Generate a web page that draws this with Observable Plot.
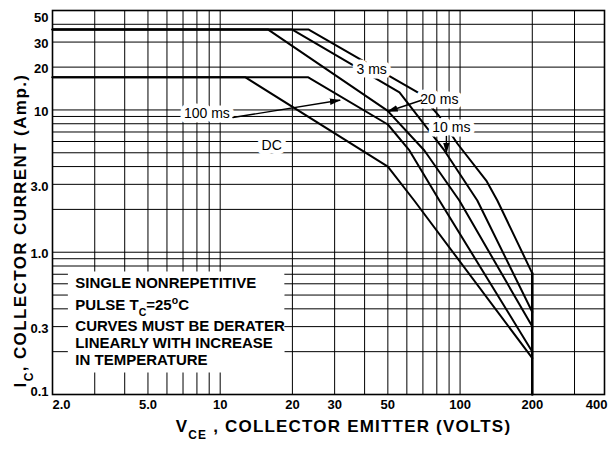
<!DOCTYPE html>
<html><head><meta charset="utf-8">
<script src="https://cdn.jsdelivr.net/npm/d3@7"></script>
<script src="https://cdn.jsdelivr.net/npm/@observablehq/plot@0.6"></script>
<style>html,body{margin:0;padding:0;background:#fff}</style>
</head><body><div id="chart"></div>
<script>
// ---- tick values / labels ----
const xTicks = [2, 5, 10, 20, 30, 50, 100, 200, 400];
const xTickLabels = ["2.0", "5.0", "10", "20", "30", "50", "100", "200", "400"];
const yTicks = [0.1, 0.3, 1, 3, 10, 20, 30, 50];
const yTickLabels = ["0.1", "0.3", "1.0", "3.0", "10", "20", "30", "50"];
const xGrid = [3, 4, 5, 6, 7, 8, 9, 10, 20, 30, 40, 50, 60, 70, 80, 90, 100, 200, 300];
const yGrid = [0.2, 0.3, 0.4, 0.5, 0.6, 0.7, 0.8, 0.9, 1, 2, 3, 4, 5, 6, 7, 8, 9, 10, 20, 30, 40];

// ---- series (VCE volts, IC amps) ----
const seriesNames = ["3 ms", "10 ms", "20 ms", "100 ms", "DC"];
const vce3ms = [2, 23.3, 67.7, 82, 97.4, 128.6, 143, 200];
const ic3ms = [36.8, 36.8, 13.1, 9.0, 5.81, 3.19, 2.31, 0.71];
const vce10ms = [2, 19.9, 55.9, 86, 118, 200];
const ic10ms = [36.8, 36.8, 13.3, 5.19, 2.31, 0.38];
const vce20ms = [2, 15.8, 49.8, 71, 99.3, 200];
const ic20ms = [36.8, 36.8, 9.9, 5.19, 2.31, 0.3];
const vce100ms = [2, 23.2, 50, 61.5, 82, 200];
const ic100ms = [17, 17, 7.9, 5.19, 2.31, 0.2];
const vceDC = [2, 12.7, 50, 64.5, 200];
const icDC = [17, 17, 4.0, 2.3, 0.18];
const vceLimit = [200, 200];
const icLimit = [0.71, 0.1];

// ---- annotations ----
const curveLabels = ["100 ms", "DC", "3 ms", "20 ms", "10 ms"];
const curveLabelV = [8.8, 16.4, 42.8, 82, 92];
const curveLabelI = [9.4, 5.6, 19.2, 11.8, 7.5];
const arrowNames = ["100 ms", "20 ms", "10 ms"];
const arrowV1 = [11.3, 69, 87.7];
const arrowI1 = [8.85, 11.7, 6.52];
const arrowV2 = [31.5, 50, 87.7];
const arrowI2 = [11.7, 9.75, 5.02];
const noteLines = ["SINGLE NONREPETITIVE", "PULSE TC=25°C", "CURVES MUST BE DERATER", "LINEARLY WITH INCREASE", "IN TEMPERATURE"];
const noteV = 2.49;
const noteI = [0.603, 0.4225, 0.3008, 0.2285, 0.1735];
const noteBoxV = [2.33, 18.6];
const xTitle = "VCE , COLLECTOR EMITTER (VOLTS)";
const yTitle = "Ic, COLLECTOR CURRENT (Amp.)";
const yTitleAt = {vce: 1.47, ic: 1.42};

// ---- build tables ----
const curveRows = [];
[[vce3ms, ic3ms], [vce10ms, ic10ms], [vce20ms, ic20ms], [vce100ms, ic100ms], [vceDC, icDC]].forEach(([vs, is], s) =>
  vs.forEach((v, k) => curveRows.push({series: seriesNames[s], vce: v, ic: is[k]})));
const limitRows = vceLimit.map((v, k) => ({vce: v, ic: icLimit[k]}));
const arrowRows = [];
arrowNames.forEach((n, k) => {
  arrowRows.push({a: n, vce: arrowV1[k], ic: arrowI1[k]});
  arrowRows.push({a: n, vce: arrowV2[k], ic: arrowI2[k]});
});
const labelRows = curveLabels.map((t, k) => ({t, vce: curveLabelV[k], ic: curveLabelI[k]}));
const noteRows = noteLines.map((t, k) => ({t, vce: noteV, ic: noteI[k]}));
const xTickRows = xTicks.map((v, k) => ({v, t: xTickLabels[k]}));
const yTickRows = yTicks.map((v, k) => ({v, t: yTickLabels[k]}));

function filledArrow(color) {
  const m = d3.create("svg:marker")
    .attr("viewBox", "-5 -5 10 10")
    .attr("markerUnits", "userSpaceOnUse")
    .attr("markerWidth", 11).attr("markerHeight", 11)
    .attr("refX", 4).attr("refY", 0)
    .attr("orient", "auto")
    .attr("fill", color).attr("stroke", "none");
  m.append("path").attr("d", "M-5,-3L5,0L-5,3Z");
  return m.node();
}

const sans = "Liberation Sans, Arial, sans-serif";
const tickFont = {fontFamily: sans, fontWeight: "bold", fontSize: 13, fill: "black"};

const svg = Plot.plot({
  width: 610,
  height: 449,
  marginTop: 10,
  marginBottom: 55,
  marginLeft: 52,
  marginRight: 6,
  style: {background: "white", fontFamily: sans, color: "black"},
  x: {type: "log", domain: [2, 400], axis: null},
  y: {type: "log", domain: [0.1, 50], axis: null},
  marks: [
    Plot.ruleX(xGrid, {stroke: "black", strokeWidth: 1}),
    Plot.ruleY(yGrid, {stroke: "black", strokeWidth: 1}),
    Plot.frame({stroke: "black", strokeWidth: 1.6}),
    Plot.line(curveRows, {x: "vce", y: "ic", z: "series", stroke: "black", strokeWidth: 2}),
    Plot.line(limitRows, {x: "vce", y: "ic", stroke: "black", strokeWidth: 2.6}),
    // curve labels with white halo
    Plot.text(labelRows, {x: "vce", y: "ic", text: "t", fontSize: 14, fill: "black",
      stroke: "white", strokeWidth: 9}),
    Plot.line(arrowRows, {x: "vce", y: "ic", z: "a", stroke: "black", strokeWidth: 1.4, markerEnd: filledArrow}),
    // note block: white backdrop band per line, then text
    Plot.ruleY(noteRows, {y: "ic", x1: noteBoxV[0], x2: noteBoxV[1], stroke: "white", strokeWidth: 24}),
    Plot.text(noteRows, {x: "vce", y: "ic", text: "t", textAnchor: "start", fontSize: 15, fontWeight: "bold",
      fill: "black"}),
    // x tick labels
    Plot.text(xTickRows.slice(0, 1), {x: "v", text: "t", frameAnchor: "bottom", dy: 14, textAnchor: "start", ...tickFont}),
    Plot.text(xTickRows.slice(1, -1), {x: "v", text: "t", frameAnchor: "bottom", dy: 14, ...tickFont}),
    Plot.text(xTickRows.slice(-1), {x: "v", text: "t", frameAnchor: "bottom", dy: 14, dx: 3, textAnchor: "end", ...tickFont}),
    // y tick labels
    Plot.text(yTickRows.slice(0, 1), {y: "v", text: "t", frameAnchor: "left", dx: -4, dy: -3, textAnchor: "end", ...tickFont}),
    Plot.text(yTickRows.slice(1, -1), {y: "v", text: "t", frameAnchor: "left", dx: -4, dy: 2, textAnchor: "end", ...tickFont}),
    Plot.text(yTickRows.slice(-1), {y: "v", text: "t", frameAnchor: "left", dx: -4, dy: 7, textAnchor: "end", ...tickFont}),
    // axis titles
    Plot.text([xTitle], {frameAnchor: "bottom", dx: 15, dy: 37, fontSize: 17, fontWeight: "bold", fill: "black"}),
    Plot.text([yTitleAt], {x: "vce", y: "ic", text: () => yTitle, rotate: -90, fontSize: 17, fontWeight: "bold", fill: "black"})
  ]
});

// rich text: subscripts / superscripts
function rich(plain, parts, spacing) {
  d3.select(svg).selectAll("text").filter(function () { return this.textContent === plain; }).each(function () {
    const t = d3.select(this);
    t.text(null);
    if (spacing) t.attr("letter-spacing", spacing);
    for (const [s, kind] of parts) {
      const ts = t.append("tspan").text(s);
      if (kind === "sub") ts.attr("font-size", "70%").attr("baseline-shift", "sub");
      if (kind === "sup") ts.attr("font-size", "70%").attr("baseline-shift", "super");
    }
  });
}
rich(xTitle, [["V"], ["CE", "sub"], [" , COLLECTOR EMITTER (VOLTS)"]], 1.2);
rich(yTitle, [["I"], ["C", "sub"], [", COLLECTOR CURRENT (Amp.)"]], 1.4);
rich("PULSE TC=25°C", [["PULSE T"], ["C", "sub"], ["=25"], ["o", "sup"], ["C"]], 0);

document.getElementById("chart").appendChild(svg);
</script>
</body></html>
